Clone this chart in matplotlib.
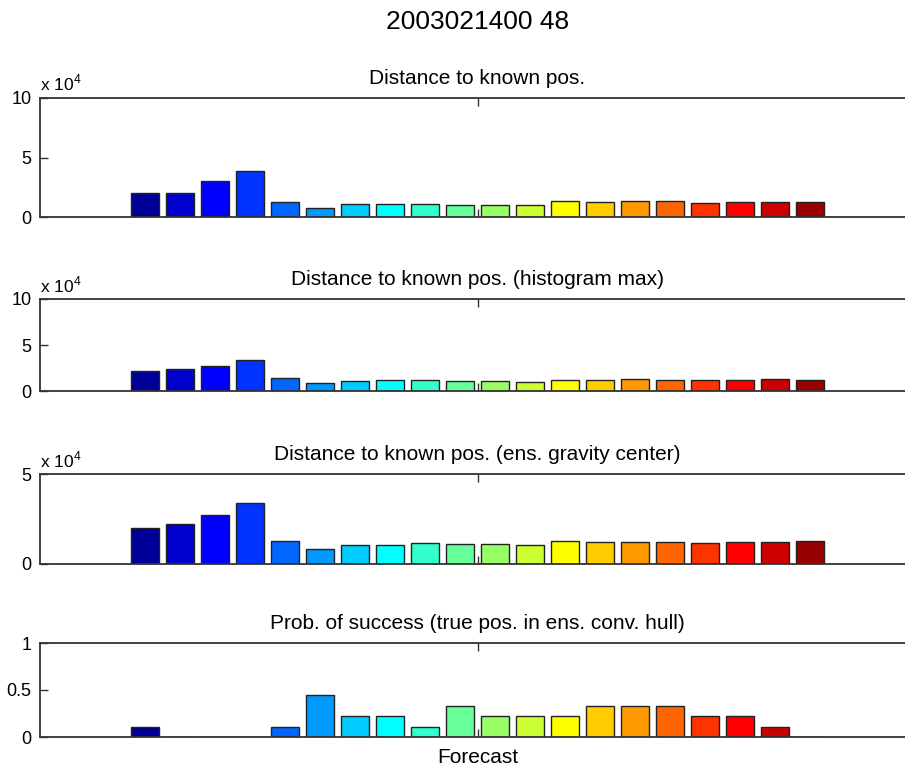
import numpy as np
import matplotlib
matplotlib.use("Agg")
import matplotlib.pyplot as plt

plt.rcParams['font.family'] = ['Liberation Sans', 'DejaVu Sans']
plt.rcParams['mathtext.fontset'] = 'custom'
plt.rcParams['mathtext.rm'] = 'Liberation Sans'

# ---- data ----
forecast = list(range(1, 21))
dist_known = [1.99, 1.99, 3.05, 3.87, 1.29, 0.76, 1.06, 1.09, 1.06, 1.01,
              1.01, 1.04, 1.32, 1.29, 1.37, 1.37, 1.20, 1.23, 1.26, 1.26]          # x 1e4
dist_histmax = [2.13, 2.35, 2.75, 3.37, 1.45, 0.90, 1.09, 1.20, 1.20, 1.04,
                1.12, 0.98, 1.23, 1.23, 1.30, 1.20, 1.16, 1.20, 1.27, 1.23]        # x 1e4
dist_gravity = [2.01, 2.23, 2.73, 3.38, 1.30, 0.82, 1.08, 1.06, 1.17, 1.12,
                1.13, 1.06, 1.30, 1.23, 1.25, 1.21, 1.19, 1.25, 1.23, 1.28]        # x 1e4
prob_success = [1/9, 0, 0, 0, 1/9, 4/9, 2/9, 2/9, 1/9, 3/9,
                2/9, 2/9, 2/9, 3/9, 3/9, 3/9, 2/9, 2/9, 1/9, 0]

titles = ["Distance to known pos.",
          "Distance to known pos. (histogram max)",
          "Distance to known pos. (ens. gravity center)",
          "Prob. of success (true pos. in ens. conv. hull)"]
series = [dist_known, dist_histmax, dist_gravity, prob_success]
ylims = [(0, 10), (0, 10), (0, 5), (0, 1)]
yticks = [[0, 5, 10], [0, 5, 10], [0, 5], [0, 0.5, 1]]
yticklabels = [["0", "5", "10"], ["0", "5", "10"], ["0", "5"], ["0", "0.5", "1"]]
scaled = [True, True, True, False]
suptitle = "2003021400 48"
xlabel = "Forecast"


def matlab_jet(m):
    n = int(np.ceil(m / 4))
    u = np.concatenate([np.arange(1, n + 1) / n, np.ones(n - 1), np.arange(n, 0, -1) / n])
    g = int(np.ceil(n / 2)) - (1 if m % 4 == 1 else 0) + np.arange(1, len(u) + 1)
    r = g + n
    b = g - n
    cmap = np.zeros((m, 3))
    for idx, arr, col in ((r, u, 0), (g, u, 1), (b, u, 2)):
        for k, i in enumerate(idx):
            if 1 <= i <= m:
                cmap[i - 1, col] = arr[k]
    return cmap


colors = matlab_jet(len(forecast))

W, H = 905, 770
fig = plt.figure(figsize=(W / 100, H / 100), dpi=100)

# axes pixel boxes (left, top, right, bottom)
boxes = [(40, 98, 915, 217), (40, 299, 915, 391), (40, 474, 915, 564), (40, 643, 915, 737)]

spine_col = '#333333'
for i, (vals, box) in enumerate(zip(series, boxes)):
    l, t, r, b = box
    ax = fig.add_axes([l / W, 1 - b / H, (r - l) / W, (b - t) / H])
    ax.bar(forecast, vals, width=0.8, color=colors, edgecolor='#222222', linewidth=1.0, zorder=2)
    ax.set_xlim(-2, 23)
    ax.set_ylim(*ylims[i])
    ax.set_xticks([10.5])
    ax.set_xticklabels([])
    ax.set_yticks(yticks[i])
    ax.set_yticklabels(yticklabels[i])
    ax.tick_params(axis='both', direction='in', length=6, width=1.0, color=spine_col,
                   labelsize=13, top=True, right=False, pad=6)
    for s in ax.spines.values():
        s.set_color(spine_col)
        s.set_linewidth(1.3)
    ax.spines['right'].set_visible(False)
    ax.set_title(titles[i], fontsize=15, pad=10)
    if scaled[i]:
        ax.text(0.0, 1.04, r'x 10$^{4}$', transform=ax.transAxes, fontsize=12.5,
                ha='left', va='bottom')
    if i == 3:
        ax.set_xlabel(xlabel, fontsize=15, labelpad=2)

fig.text(477.5 / W, 1 - 22 / H, suptitle, fontsize=19, ha='center', va='center')

fig.savefig('out.png', dpi=100)
